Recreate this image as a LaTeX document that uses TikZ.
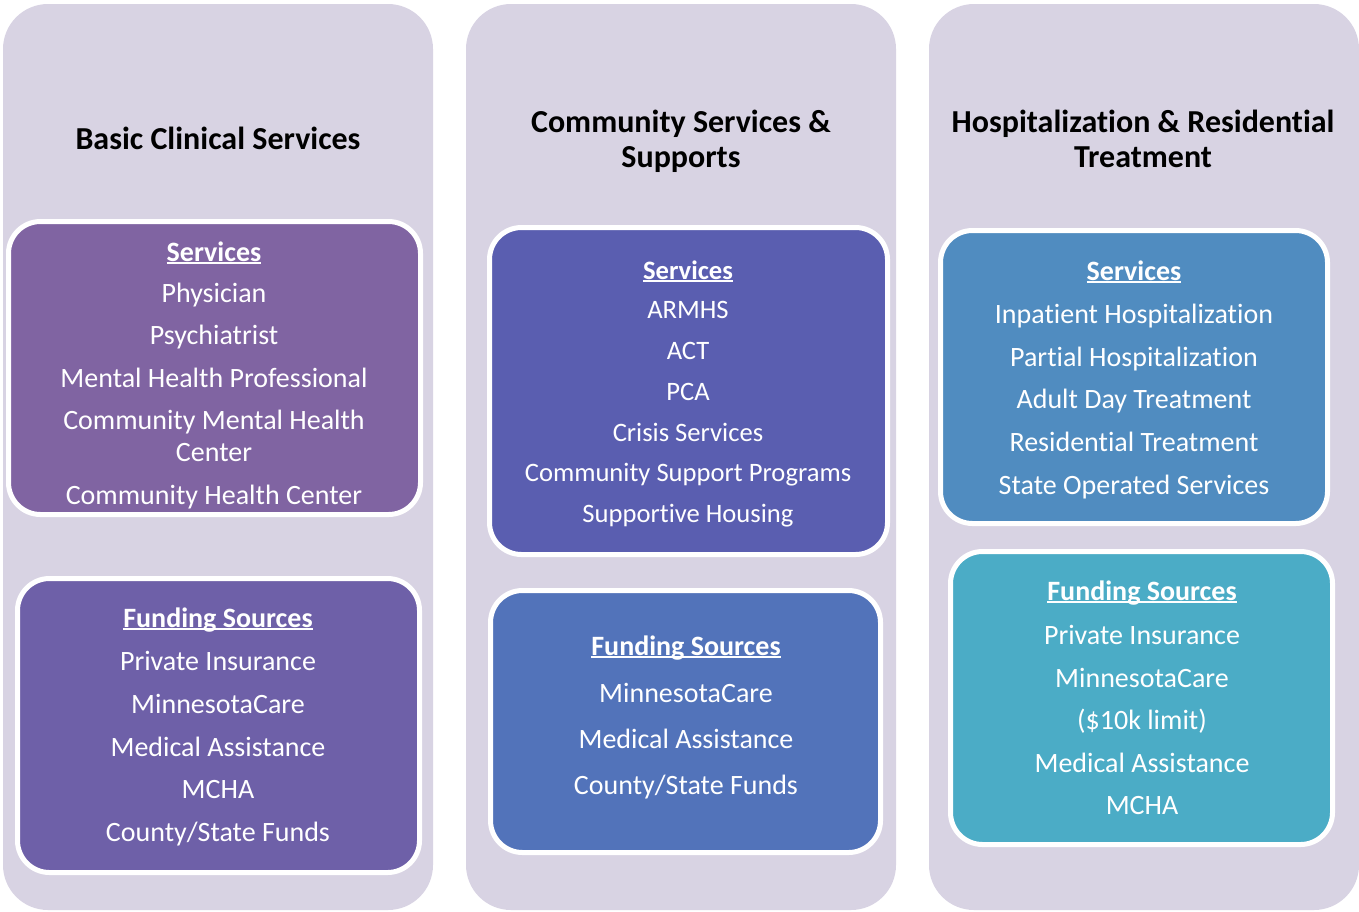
\documentclass[tikz,border=0pt]{standalone}
\usepackage{fontspec}
\setmainfont{Carlito}[Ligatures={NoCommon}]
\definecolor{panelc}{HTML}{D8D3E3}
\definecolor{cAs}{HTML}{8064A2}
\definecolor{cAf}{HTML}{6E60A8}
\definecolor{cBs}{HTML}{5A5EB0}
\definecolor{cBf}{HTML}{5273BA}
\definecolor{cCs}{HTML}{508CC0}
\definecolor{cCf}{HTML}{4BACC6}
\newcommand{\hdr}[1]{\setbox0=\hbox{\bfseries #1}\rlap{\rule[-3pt]{\wd0}{1.8pt}}\box0}
\begin{document}
\begin{tikzpicture}[x=1pt,y=-1pt,
  panel/.style={fill=panelc, draw=none, rounded corners=45pt, inner sep=0pt, outer sep=0pt},
  box/.style={draw=white, line width=5pt, rounded corners=32pt, inner sep=0pt, outer sep=0pt},
  txt/.style={text=white, anchor=base, inner sep=0pt, font=\fontsize{28}{32}\selectfont},
  txts/.style={txt, font=\fontsize{26.6}{31}\selectfont},
  ttl/.style={text=black, anchor=base, inner sep=0pt, font=\fontsize{32}{36}\selectfont\bfseries},
  ]
\useasboundingbox (0,0) rectangle (1359,911);
% panels
\node[panel, minimum width=430, minimum height=906] (p1) at (218,457) {};
\node[panel, minimum width=430, minimum height=906] (p2) at (681,457) {};
\node[panel, minimum width=430, minimum height=906] (p3) at (1144,457) {};
% boxes
\node[box, fill=cAs, minimum width=412, minimum height=293] (b1s) at (214.5,368) {};
\node[box, fill=cAf, minimum width=402, minimum height=294] (b1f) at (218.5,725.5) {};
\node[box, fill=cBs, minimum width=398, minimum height=327] (b2s) at (688.5,391) {};
\node[box, fill=cBf, minimum width=390, minimum height=262] (b2f) at (685.5,721.5) {};
\node[box, fill=cCs, minimum width=387, minimum height=293] (b3s) at (1134,377) {};
\node[box, fill=cCf, minimum width=382, minimum height=293] (b3f) at (1141.5,698) {};
% titles
\node[ttl] (t1) at (218,149) {Basic Clinical Services};
\node[ttl] (t2a) at (681,132) {Community Services \&};
\node[ttl] (t2b) at (681,167) {Supports};
\node[ttl] (t3a) at (1143,132) {Hospitalization \& Residential};
\node[ttl] (t3b) at (1143,167) {Treatment};
% column 1 services
\node[txt] (a0) at (214,261) {\hdr{Services}};
\node[txt] (a1) at (214,302) {Physician};
\node[txt] (a2) at (214,344) {Psychiatrist};
\node[txt] (a3) at (214,387) {Mental Health Professional};
\node[txt] (a4) at (214,429) {Community Mental Health};
\node[txt] (a5) at (214,461) {Center};
\node[txt] (a6) at (214,504) {Community Health Center};
% column 1 funding
\node[txt] (f0) at (218,627) {\hdr{Funding Sources}};
\node[txt] (f1) at (218,670) {Private Insurance};
\node[txt] (f2) at (218,713) {MinnesotaCare};
\node[txt] (f3) at (218,756) {Medical Assistance};
\node[txt] (f4) at (218,798) {MCHA};
\node[txt] (f5) at (218,841) {County/State Funds};
% column 2 services
\node[txts] (c0) at (688,279) {\hdr{Services}};
\node[txts] (c1) at (688,318) {ARMHS};
\node[txts] (c2) at (688,359) {ACT};
\node[txts] (c3) at (688,400) {PCA};
\node[txts] (c4) at (688,441) {Crisis Services};
\node[txts] (c5) at (688,481) {Community Support Programs};
\node[txts] (c6) at (688,522) {Supportive Housing};
% column 2 funding
\node[txt] (g0) at (686,655) {\hdr{Funding Sources}};
\node[txt] (g1) at (686,702) {MinnesotaCare};
\node[txt] (g2) at (686,748) {Medical Assistance};
\node[txt] (g3) at (686,794) {County/State Funds};
% column 3 services
\node[txt] (d0) at (1134,280) {\hdr{Services}};
\node[txt] (d1) at (1134,323) {Inpatient Hospitalization};
\node[txt] (d2) at (1134,366) {Partial Hospitalization};
\node[txt] (d3) at (1134,408) {Adult Day Treatment};
\node[txt] (d4) at (1134,451) {Residential Treatment};
\node[txt] (d5) at (1134,494) {State Operated Services};
% column 3 funding
\node[txt] (h0) at (1142,600) {\hdr{Funding Sources}};
\node[txt] (h1) at (1142,644) {Private Insurance};
\node[txt] (h2) at (1142,687) {MinnesotaCare};
\node[txt] (h3) at (1142,729) {(\$10k limit)};
\node[txt] (h4) at (1142,772) {Medical Assistance};
\node[txt] (h5) at (1142,814) {MCHA};
\end{tikzpicture}
\end{document}
